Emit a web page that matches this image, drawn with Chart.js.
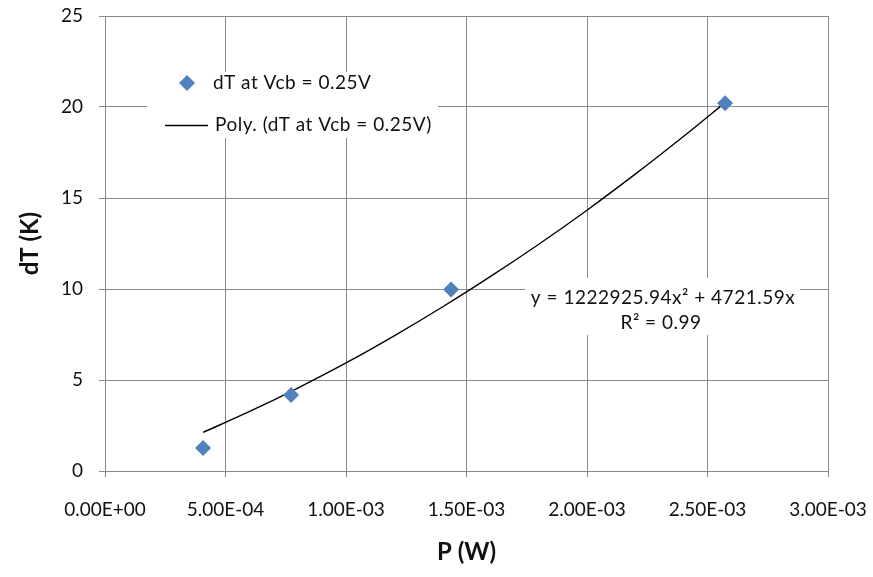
<!DOCTYPE html>
<html>
<head>
<meta charset="utf-8">
<title>dT vs P</title>
<script src="https://cdn.jsdelivr.net/npm/chart.js@4.4.1/dist/chart.umd.min.js"></script>
<style>
  html, body { margin: 0; padding: 0; background: #fff; }
  #chart { display: block; }
</style>
</head>
<body>
<canvas id="chart" width="873" height="577"></canvas>
<script>
const SERIES_LABEL = "dT at Vcb = 0.25V";
const TREND_LABEL = "Poly. (dT at Vcb = 0.25V)";

// measured points
const powerW = [4.07e-4, 7.72e-4, 1.436e-3, 2.573e-3];
const deltaT = [1.27, 4.18, 9.97, 20.2];

// trendline
const trendPowerW = [4.07e-4, 6.0e-4, 8.0e-4, 1.0e-3, 1.2e-3, 1.4e-3, 1.6e-3, 1.8e-3, 2.0e-3, 2.2e-3, 2.4e-3, 2.573e-3];
const trendDeltaT = [2.12, 3.27, 4.56, 5.94, 7.43, 9.01, 10.69, 12.46, 14.33, 16.31, 18.38, 20.24];

const equationLines = ["y = 1222925.94x\u00b2 + 4721.59x", "R\u00b2 = 0.99"];

const xMin = 0, xMax = 3e-3, xStep = 5e-4;
const yMin = 0, yMax = 25, yStep = 5;

const GRID = "#8a8a8a";
const TEXT = "#111";
const BLUE = "#4f81bd";
const FONT = "Lato, 'Open Sans', sans-serif";

function formatSci(value) {
  const parts = Number(value).toExponential(2).toUpperCase().split("E");
  const sign = parts[1][0] === "-" ? "-" : "+";
  const exp = parts[1].replace(/[+-]/, "").padStart(2, "0");
  return `${parts[0]}E${sign}${exp}`;
}

function drawDiamond(ctx, cx, cy, r) {
  ctx.beginPath();
  ctx.moveTo(cx, cy - r);
  ctx.lineTo(cx + r, cy);
  ctx.lineTo(cx, cy + r);
  ctx.lineTo(cx - r, cy);
  ctx.closePath();
  ctx.fill();
}

const overlayPlugin = {
  id: "overlay",
  beforeDatasetsDraw(chart) {
    const ctx = chart.ctx;
    ctx.save();

    // legend box inside the plot
    ctx.fillStyle = "#fff";
    ctx.fillRect(147, 72, 291, 66);
    ctx.fillStyle = BLUE;
    drawDiamond(ctx, 187, 83, 8);
    ctx.strokeStyle = "#000";
    ctx.lineWidth = 1.3;
    ctx.beginPath();
    ctx.moveTo(165, 125.5);
    ctx.lineTo(208, 125.5);
    ctx.stroke();

    ctx.fillStyle = TEXT;
    ctx.font = `19px ${FONT}`;
    ctx.letterSpacing = "0.5px";
    ctx.textBaseline = "middle";
    ctx.textAlign = "left";
    ctx.fillText(SERIES_LABEL, 213, 83);
    ctx.fillText(TREND_LABEL, 215, 125);

    // trendline equation box
    ctx.fillStyle = "#fff";
    ctx.fillRect(525, 278, 275, 57);
    ctx.fillStyle = TEXT;
    ctx.textAlign = "center";
    ctx.fillText(equationLines[0], 663, 298);
    ctx.fillText(equationLines[1], 661, 323);

    ctx.restore();
  }
};

const points = powerW.map((x, i) => ({ x, y: deltaT[i] }));
const trend = trendPowerW.map((x, i) => ({ x, y: trendDeltaT[i] }));

new Chart(document.getElementById("chart"), {
  type: "scatter",
  data: {
    datasets: [
      {
        label: TREND_LABEL,
        data: trend,
        showLine: true,
        borderColor: "#000",
        borderWidth: 1.4,
        pointRadius: 0,
        cubicInterpolationMode: "monotone",
        order: 2
      },
      {
        label: SERIES_LABEL,
        data: points,
        pointStyle: "rectRot",
        pointRadius: 8,
        backgroundColor: BLUE,
        borderColor: BLUE,
        borderWidth: 0,
        order: 1
      }
    ]
  },
  options: {
    responsive: false,
    animation: false,
    layout: { padding: { top: 16, right: 45, left: 0, bottom: 0 } },
    plugins: {
      legend: { display: false },
      tooltip: { enabled: false }
    },
    scales: {
      x: {
        type: "linear",
        min: xMin,
        max: xMax,
        afterFit(scale) {
          scale.height = 106;
          scale.paddingLeft = 0;
          scale.paddingRight = 0;
        },
        afterBuildTicks(scale) {
          const ticks = [];
          for (let i = 0; i <= Math.round((xMax - xMin) / xStep); i++) {
            ticks.push({ value: xMin + i * xStep });
          }
          scale.ticks = ticks;
        },
        grid: { color: GRID, lineWidth: 1, tickLength: 6 },
        border: { color: GRID, width: 1 },
        ticks: {
          padding: 21,
          color: TEXT,
          font: { family: FONT, size: 19 },
          maxRotation: 0,
          callback: (value) => formatSci(value)
        },
        title: {
          display: true,
          text: "P (W)",
          color: TEXT,
          font: { family: FONT, size: 24, weight: "bold" },
          padding: { top: 0, bottom: 10 }
        }
      },
      y: {
        min: yMin,
        max: yMax,
        afterFit(scale) {
          scale.width = 105;
          scale.paddingTop = 0;
          scale.paddingBottom = 0;
        },
        grid: { color: GRID, lineWidth: 1, tickLength: 6 },
        border: { color: GRID, width: 1 },
        ticks: {
          stepSize: yStep,
          padding: 16,
          color: TEXT,
          font: { family: FONT, size: 19 }
        },
        title: {
          display: true,
          text: "dT (K)",
          color: TEXT,
          font: { family: FONT, size: 24, weight: "bold" },
          padding: { top: 16, bottom: 0 }
        }
      }
    }
  },
  plugins: [overlayPlugin]
});
</script>
</body>
</html>
